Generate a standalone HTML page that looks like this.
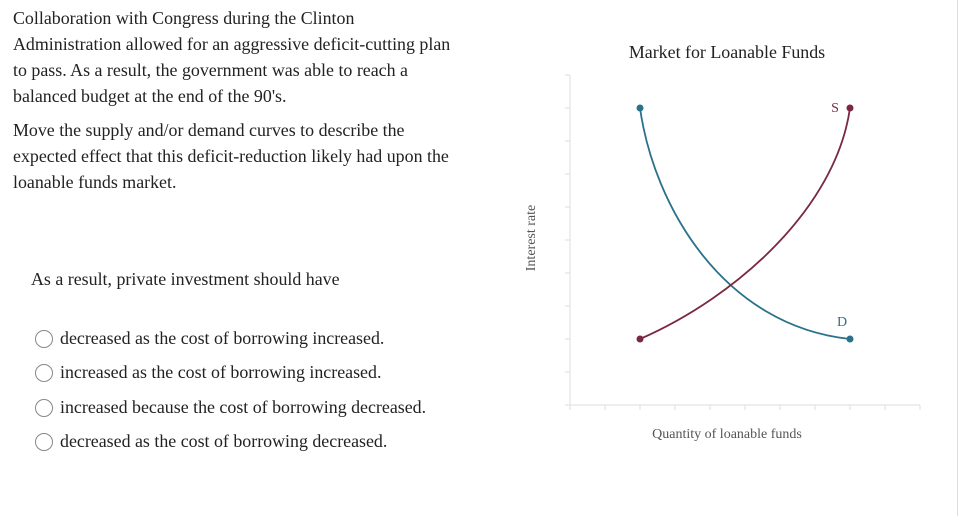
<!DOCTYPE html>
<html><head><meta charset="utf-8"><style>
body{margin:0;width:960px;height:516px;background:#fff;font-family:"Liberation Serif",serif;color:#222;position:relative;overflow:hidden}
.t{position:absolute;left:13px;font-size:17.9px;white-space:nowrap}
.opt{position:absolute;left:35px;font-size:17.9px;white-space:nowrap;display:flex;align-items:center}
.rad{width:18px;height:18px;border:1.5px solid #888;border-radius:50%;margin-right:7px;box-sizing:border-box}
</style></head><body>
<div class="t" style="top:8px">Collaboration with Congress during the Clinton</div>
<div class="t" style="top:34px">Administration allowed for an aggressive deficit-cutting plan</div>
<div class="t" style="top:60px">to pass. As a result, the government was able to reach a</div>
<div class="t" style="top:86px">balanced budget at the end of the 90's.</div>
<div class="t" style="top:120px">Move the supply and/or demand curves to describe the</div>
<div class="t" style="top:146px">expected effect that this deficit-reduction likely had upon the</div>
<div class="t" style="top:172px">loanable funds market.</div>
<div class="t" style="top:269px;left:31px">As a result, private investment should have</div>
<div class="opt" style="top:328px"><span class="rad"></span>decreased as the cost of borrowing increased.</div>
<div class="opt" style="top:362px"><span class="rad"></span>increased as the cost of borrowing increased.</div>
<div class="opt" style="top:397px"><span class="rad"></span>increased because the cost of borrowing decreased.</div>
<div class="opt" style="top:431px"><span class="rad"></span>decreased as the cost of borrowing decreased.</div>
<div style="position:absolute;left:957px;top:0;width:1px;height:516px;background:#ddd"></div>
<svg id="chart" width="960" height="516" style="position:absolute;left:0;top:0" font-family="Liberation Serif, serif"></svg>
<script>
const xTicks=[0,1,2,3,4,5,6,7,8,9,10];
const yTicks=[0,1,2,3,4,5,6,7,8,9,10];
const demandPts=[[2,9],[2.4,6.0],[4.4,2.4],[8,2]];
const supplyPts=[[2,2],[4.8,3.3],[7.6,6.0],[8,9]];
const NS='http://www.w3.org/2000/svg';
const svg=document.getElementById('chart');
const X0=570,XS=35,Y0=405,YS=33;
function sx(v){return X0+v*XS}
function sy(v){return Y0-v*YS}
function mk(tag,attrs){const e=document.createElementNS(NS,tag);for(const k in attrs)e.setAttribute(k,attrs[k]);svg.appendChild(e);return e}
let e;
e=mk('text',{x:727,y:58,'text-anchor':'middle','font-size':17.9,fill:'#222'});e.textContent='Market for Loanable Funds';


e=mk('line',{x1:X0,y1:75,x2:X0,y2:Y0,stroke:'#ddd'});


e=mk('line',{x1:X0,y1:Y0,x2:sx(10),y2:Y0,stroke:'#ddd'});


xTicks.forEach(t=>{e=mk('line',{x1:sx(t),y1:Y0,x2:sx(t),y2:Y0+5,stroke:'#ddd'});

});
yTicks.forEach(t=>{e=mk('line',{x1:X0-5,y1:sy(t),x2:X0,y2:sy(t),stroke:'#ddd'});

});
e=mk('text',{x:727,y:438,'text-anchor':'middle','font-size':14,fill:'#555'});e.textContent='Quantity of loanable funds';


e=mk('text',{x:0,y:0,'text-anchor':'middle','font-size':14,fill:'#555',transform:'translate(535,238) rotate(-90)'});e.textContent='Interest rate';


function curve(p,col,name){
 const d='M'+sx(p[0][0])+','+sy(p[0][1])+' C'+sx(p[1][0])+','+sy(p[1][1])+' '+sx(p[2][0])+','+sy(p[2][1])+' '+sx(p[3][0])+','+sy(p[3][1]);
 e=mk('path',{d:d,fill:'none',stroke:col,'stroke-width':1.8});
 
 
 [p[0],p[3]].forEach(q=>{e=mk('circle',{cx:sx(q[0]),cy:sy(q[1]),r:3.5,fill:col});
 
 });
}
curve(demandPts,'#2a7289','demand');
curve(supplyPts,'#7b2841','supply');
e=mk('text',{x:sx(supplyPts[3][0])-15,y:sy(supplyPts[3][1])+4,'text-anchor':'middle','font-size':14,fill:'#7b2841'});e.textContent='S';


e=mk('text',{x:sx(demandPts[3][0])-8,y:sy(demandPts[3][1])-13,'text-anchor':'middle','font-size':14,fill:'#2a7289'});e.textContent='D';


</script>
</body></html>
